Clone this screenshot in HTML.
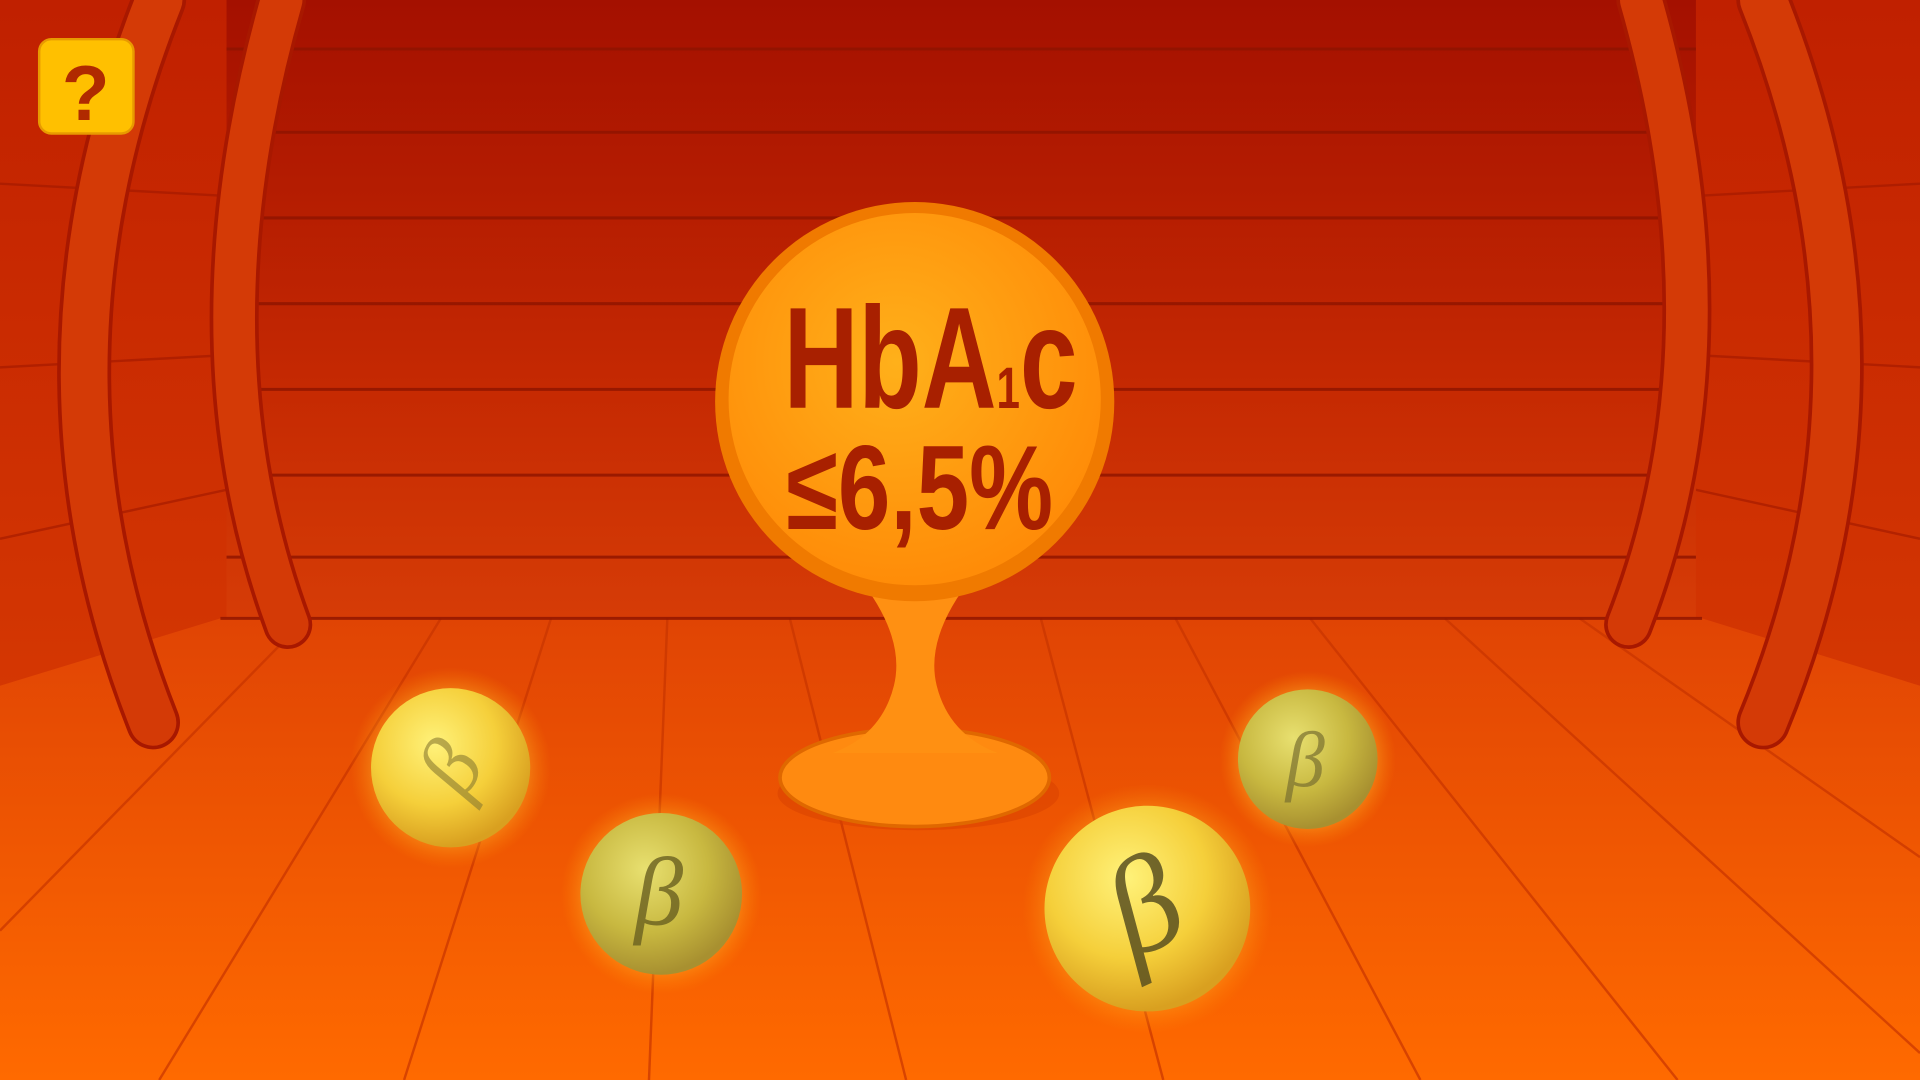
<!DOCTYPE html>
<html><head><meta charset="utf-8"><style>
html,body{margin:0;padding:0;width:1920px;height:1080px;overflow:hidden;background:#c02800}
svg{display:block}
</style></head><body>
<svg width="1920" height="1080" viewBox="0 0 1568 882" preserveAspectRatio="none" xmlns="http://www.w3.org/2000/svg">
<defs>
<linearGradient id="wall" x1="0" y1="0" x2="0" y2="1"><stop offset="0" stop-color="#a41000"/><stop offset="0.6" stop-color="#c42802"/><stop offset="1" stop-color="#d63c06"/></linearGradient>
<linearGradient id="floor" x1="0" y1="0" x2="0" y2="1"><stop offset="0" stop-color="#e04404"/><stop offset="1" stop-color="#ff6a00"/></linearGradient>
<linearGradient id="side" x1="0" y1="0" x2="0" y2="1"><stop offset="0" stop-color="#c02000"/><stop offset="1" stop-color="#e04404"/></linearGradient>
<radialGradient id="sign" cx="0.45" cy="0.4" r="0.6"><stop offset="0" stop-color="#ffb01a"/><stop offset="1" stop-color="#ff8c08"/></radialGradient>
<radialGradient id="ball" cx="0.4" cy="0.35" r="0.65"><stop offset="0" stop-color="#fff27a"/><stop offset="0.6" stop-color="#f5cf3a"/><stop offset="1" stop-color="#d9a020"/></radialGradient>
<radialGradient id="ball2" cx="0.4" cy="0.35" r="0.65"><stop offset="0" stop-color="#e8e070"/><stop offset="0.6" stop-color="#c8b840"/><stop offset="1" stop-color="#a89030"/></radialGradient>
<radialGradient id="glow"><stop offset="0.6" stop-color="#ffd040" stop-opacity="0.7"/><stop offset="1" stop-color="#ff9000" stop-opacity="0"/></radialGradient>
</defs>
<rect x="0" y="0" width="1568" height="882" fill="url(#side)"/>
<g stroke="#a01800" stroke-width="2" opacity="0.6">
<line x1="0" y1="150" x2="185" y2="160"/><line x1="0" y1="300" x2="185" y2="290"/><line x1="0" y1="440" x2="185" y2="400"/>
<line x1="1385" y1="160" x2="1568" y2="150"/><line x1="1385" y1="290" x2="1568" y2="300"/><line x1="1385" y1="400" x2="1568" y2="440"/>
</g>
<g>
<path d="M0 560 L180 505 L1390 505 L1568 560 L1568 882 L0 882 Z" fill="url(#floor)"/>
<g stroke="#c83400" stroke-width="2" fill="none" opacity="0.7">
<path d="M360 505 L130 882"/><path d="M450 505 L330 882"/><path d="M545 505 L530 882"/><path d="M645 505 L740 882"/><path d="M850 505 L950 882"/><path d="M960 505 L1160 882"/><path d="M1070 505 L1370 882"/><path d="M1180 505 L1568 860"/><path d="M250 505 L0 760"/><path d="M1290 505 L1568 700"/>
</g></g>
<g>
<path d="M185 0 L1385 0 L1385 505 L185 505 Z" fill="url(#wall)"/>
<g stroke="#8e1400" stroke-width="2.5" opacity="0.8">
<line x1="185" y1="40" x2="1385" y2="40"/><line x1="185" y1="108" x2="1385" y2="108"/><line x1="185" y1="178" x2="1385" y2="178"/><line x1="185" y1="248" x2="1385" y2="248"/><line x1="185" y1="318" x2="1385" y2="318"/><line x1="185" y1="388" x2="1385" y2="388"/><line x1="185" y1="455" x2="1385" y2="455"/><line x1="180" y1="505" x2="1390" y2="505"/>
</g></g>
<g fill="none" stroke-linecap="round">
<path d="M230 0 Q150 280 235 510" stroke="#a81800" stroke-width="40"/>
<path d="M230 0 Q150 280 235 510" stroke="#d43a06" stroke-width="34"/>
<path d="M130 0 Q10 300 125 590" stroke="#a81800" stroke-width="44"/>
<path d="M130 0 Q10 300 125 590" stroke="#d43a06" stroke-width="38"/>
</g>
<g fill="none" stroke-linecap="round">
<path d="M1340 0 Q1420 280 1330 510" stroke="#a81800" stroke-width="40"/>
<path d="M1340 0 Q1420 280 1330 510" stroke="#d43a06" stroke-width="34"/>
<path d="M1440 0 Q1560 300 1440 590" stroke="#a81800" stroke-width="44"/>
<path d="M1440 0 Q1560 300 1440 590" stroke="#d43a06" stroke-width="38"/>
</g>
<g>
<ellipse cx="750" cy="648" rx="115" ry="30" fill="#d84000" opacity="0.5"/>
<ellipse cx="747" cy="635" rx="110" ry="40" fill="#ff8a10" stroke="#e06800" stroke-width="3"/>
<path d="M700 470 Q740 520 730 560 Q720 600 680 615 L815 615 Q775 600 765 560 Q755 520 795 470 Z" fill="#ff9012"/>
<circle cx="747" cy="328" r="163" fill="#f07a00"/>
<circle cx="747" cy="326" r="152" fill="url(#sign)"/>
<text x="640" y="333" textLength="240" lengthAdjust="spacingAndGlyphs" font-family="'Liberation Sans Narrow','Liberation Sans',sans-serif" font-weight="bold" font-size="118" fill="#a82000">HbA<tspan font-size="48">1</tspan>c</text>
<text x="642" y="432" textLength="218" lengthAdjust="spacingAndGlyphs" font-family="'Liberation Sans Narrow','Liberation Sans',sans-serif" font-weight="bold" font-size="98" fill="#a82000">≤6,5%</text>
</g>
<g font-family="'Liberation Serif',serif" font-style="italic" fill="#8a7a30" text-anchor="middle">
<g><circle cx="368" cy="627" r="82" fill="url(#glow)"/><circle cx="368" cy="627" r="65" fill="url(#ball)"/><text x="368" y="650" font-size="70" transform="rotate(-60 368 627)" opacity="0.6">β</text></g>
<g><circle cx="540" cy="730" r="82" fill="url(#glow)"/><circle cx="540" cy="730" r="66" fill="url(#ball2)"/><text x="538" y="755" font-size="80" fill="#6a6020" opacity="0.8">β</text></g>
<g><circle cx="1068" cy="620" r="72" fill="url(#glow)"/><circle cx="1068" cy="620" r="57" fill="url(#ball2)"/><text x="1066" y="642" font-size="64" fill="#7a7030" opacity="0.7">β</text></g>
<g><circle cx="937" cy="742" r="102" fill="url(#glow)"/><circle cx="937" cy="742" r="84" fill="url(#ball)"/><text x="935" y="775" font-size="110" fill="#5a5020" transform="rotate(-25 937 742)" opacity="0.85">β</text></g>
</g>
<g>
<rect x="32" y="32" width="77" height="77" rx="10" fill="#ffc000" stroke="#e89a00" stroke-width="2"/>
<text x="70" y="98" text-anchor="middle" font-family="'Liberation Sans',sans-serif" font-weight="bold" font-size="64" fill="#b02a00">?</text>
</g>
</svg>
</body></html>
